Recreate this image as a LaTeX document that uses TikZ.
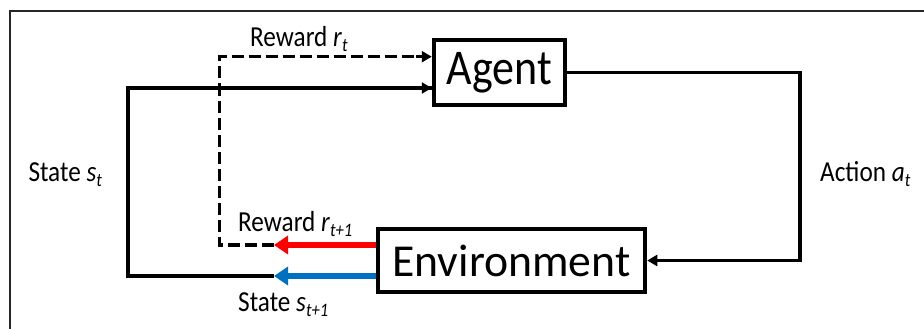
\documentclass[tikz,border=0pt]{standalone}
\usepackage{fontspec}
\setmainfont{Carlito}
\newfontfamily\condfont[FakeStretch=0.87]{Carlito}
\newfontfamily\agentfont[FakeStretch=0.88]{Carlito}
\usetikzlibrary{arrows.meta}
\newcommand\lbsub[1]{\raisebox{-5pt}{\fontsize{19}{19}\selectfont\itshape #1}}
\begin{document}
\begin{tikzpicture}[x=1pt,y=-1pt,
  box/.style={draw=black,line width=4.5pt,inner sep=0pt,fill=white},
  conn/.style={draw=black,line width=3.5pt},
  blackhead/.style={-{Triangle[length=10pt,width=11pt]}},
  dashedconn/.style={draw=black,line width=3.5pt,dash pattern=on 12pt off 5pt},
  colarrow/.style={line width=6pt,-{Triangle[length=14pt,width=18pt]}},
  lbl/.style={anchor=base west,inner sep=0pt,font=\condfont\fontsize{29}{29}\selectfont},
  frame/.style={draw=black!85,line width=2pt}
]
\useasboundingbox (0,0) rectangle (924,329);
\fill[white] (0,0) rectangle (924,329);
\draw[frame] (9.5,11) rectangle (940,345);

\node[box,minimum width=131pt,minimum height=65pt,font=\agentfont\fontsize{50}{50}\selectfont] (agent) at (499.5,72.5) {Agent};
\node[box,minimum width=267pt,minimum height=63pt,font=\fontsize{45.7}{45.7}\selectfont] (env) at (511.5,260.5) {Environment};

\coordinate (ac) at (800,72.5);
\coordinate (sb) at (274,276);
\coordinate (sl) at (128,276);
\coordinate (rb) at (274,245);
\coordinate (rl) at (219.5,245);

% action
\draw[conn,blackhead] (agent.east) -- (ac) |- (env.east);
% state loop
\draw[conn] (sb) -- (sl) |- ([yshift=-15.5pt]agent.west);
\draw[conn,blackhead] ([xshift=-20pt,yshift=-15.5pt]agent.west) -- ([yshift=-15.5pt]agent.west);
% reward loop
\draw[dashedconn] (rb) -- (rl) |- ([xshift=-16pt,yshift=15.8pt]agent.west);
\draw[conn,blackhead] ([xshift=-16pt,yshift=15.8pt]agent.west) -- ([yshift=15.8pt]agent.west);
% colored arrows
\draw[colarrow,draw={rgb,255:red,255;green,0;blue,0},fill={rgb,255:red,255;green,0;blue,0}] ([yshift=15.5pt]env.west) -- (rb);
\draw[colarrow,draw={rgb,255:red,0;green,112;blue,192},fill={rgb,255:red,0;green,112;blue,192}] ([yshift=-15.5pt]env.west) -- (sb);

% labels
\node[lbl] (lrt) at (250,47) {Reward \textit{r}\lbsub{t}};
\node[lbl] (lst) at (28.3,181) {State \textit{s}\lbsub{t}};
\node[lbl] (lat) at (820,181) {Action \textit{a}\lbsub{t}};
\node[lbl] (lrt1) at (238,231.7) {Reward \textit{r}\lbsub{t+1}};
\node[lbl] (lst1) at (238,311.5) {State \textit{s}\lbsub{t+1}};
\end{tikzpicture}
\end{document}
